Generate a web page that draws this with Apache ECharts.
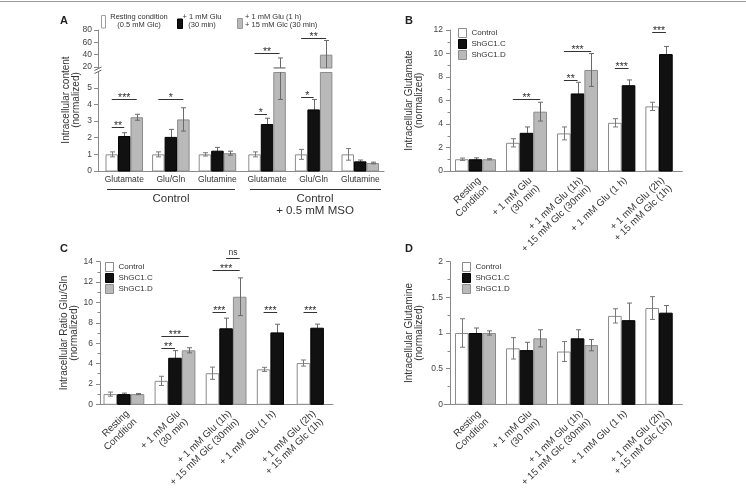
<!DOCTYPE html>
<html><head><meta charset="utf-8">
<script src="https://cdn.jsdelivr.net/npm/echarts@6/dist/echarts.min.js"></script>
<style>html,body{margin:0;padding:0;background:#fff}#c{width:746px;height:488px}</style>
</head><body><div id="c"></div>
<script>
// ================= DATA =================
// Panel A
const catsA = ['Glutamate','Glu/Gln','Glutamine','Glutamate','Glu/Gln','Glutamine'];
const namesA = ['Resting condition (0.5 mM Glc)','+ 1 mM Glu (30 min)','+ 1 mM Glu (1 h) + 15 mM Glc (30 min)'];
const aRest      = [1.0, 1.0, 1.0, 1.0, 1.0, 1.0];
const aRestErr   = [0.15, 0.15, 0.1, 0.15, 0.3, 0.35];
const aGlu       = [2.1, 2.05, 1.22, 2.82, 3.7, 0.58];
const aGluErr    = [0.2, 0.45, 0.2, 0.35, 0.6, 0.08];
const aGluGlc    = [3.23, 3.1, 1.07, 19.5, 40, 0.48];
const aGluGlcErr = [0.18, 0.7, 0.12, 15.2, 23, 0.05];
// significance: [group, fromSeries, toSeries, yValue, label]
const sigA = [[0,0,1,2.66,'**'],[0,0,2,4.3,'***'],[1,0,2,4.3,'*'],[3,0,1,3.4,'*'],[3,0,2,42,'**'],[4,0,1,4.46,'*'],[4,0,2,66.5,'**']];
const ticksAlow  = [0,1,2,3,4,5];
const ticksAhigh = [20,40,60,80];

// Panels B, C, D
const catsBCD = ['Resting\nCondition','+ 1 mM Glu\n(30 min)','+ 1 mM Glu (1h)\n+ 15 mM Glc (30min)','+ 1 mM Glu (1 h)','+ 1 mM Glu (2h)\n+ 15 mM Glc (1h)'];
const namesBCD = ['Control','ShGC1.C','ShGC1.D'];

const bControl    = [1.0, 2.4, 3.2, 4.1, 5.5];
const bControlErr = [0.1, 0.35, 0.55, 0.35, 0.35];
const bShC        = [1.0, 3.25, 6.6, 7.3, 9.95];
const bShCErr     = [0.12, 0.5, 0.95, 0.45, 0.65];
const bShD        = [1.0, 5.05, 8.6, null, null];
const bShDErr     = [0.05, 0.8, 1.4, null, null];
const sigB = [[1,0,2,6.1,'**'],[2,0,1,7.74,'**'],[2,0,2,10.24,'***'],[3,0,1,8.74,'***'],[4,0,1,11.86,'***']];

const cControl    = [1.0, 2.3, 3.05, 3.43, 4.05];
const cControlErr = [0.2, 0.45, 0.6, 0.2, 0.3];
const cShC        = [1.0, 4.57, 7.46, 7.06, 7.52];
const cShCErr     = [0.1, 0.7, 1.0, 0.8, 0.35];
const cShD        = [1.0, 5.3, 10.56, null, null];
const cShDErr     = [0.05, 0.25, 1.85, null, null];
const sigC = [[1,0,1,5.55,'**'],[1,0,2,6.7,'***'],[2,0,1,9.09,'***'],[2,0,2,13.18,'***'],[2,1,2,14.4,'ns'],[3,0,1,9.09,'***'],[4,0,1,9.09,'***']];

const dControl    = [1.0, 0.785, 0.74, 1.24, 1.35];
const dControlErr = [0.2, 0.15, 0.14, 0.1, 0.16];
const dShC        = [1.0, 0.76, 0.925, 1.18, 1.285];
const dShCErr     = [0.07, 0.11, 0.12, 0.24, 0.1];
const dShD        = [1.0, 0.925, 0.83, null, null];
const dShDErr     = [0.03, 0.12, 0.08, null, null];

// ================= STYLE / LAYOUT =================
const FONT = "'Liberation Sans', Arial, Helvetica, sans-serif";
const AX = '#8a8a8a', TXT = '#333';
const STY = [
  {fill:'#ffffff', stroke:'#8c8c8c', err:'#7a7a7a', under:false},
  {fill:'#111111', stroke:'#000000', err:'#6a6a6a', under:true},
  {fill:'#b9b9b9', stroke:'#8c8c8c', err:'#6a6a6a', under:false}
];
// left = x-axis start; yOff = how far the y axis sits to the right of it
const PA = {left:98,  yOff:0, width:286,   pad:7.5, barW:12.5,  gap:9.1,  extra:[0,0,0,3,0,0]};
const PB = {left:444, yOff:6, width:238.4, pad:11,  barW:13.67, gap:10,   extra:[0,0,0,0,0]};
const PC = {left:97,  yOff:3, width:235.9, pad:6.5, barW:13.6,  gap:10.3, extra:[0,0,0,0,2.4]};
const PD = {left:444, yOff:6, width:238.4, pad:11,  barW:13.67, gap:10,   extra:[0,0,0,0,0]};

function countBars(list){ return list[0].map((_,g)=>list.filter(s=>s[g]!=null).length); }
function layout(P, counts){
  const starts=[]; let x=P.pad;
  counts.forEach((n,i)=>{ x += P.extra[i]||0; starts.push(x); x += n*P.barW + P.gap; });
  const centers = starts.map((s,i)=>s + counts[i]*P.barW/2);
  return {starts, centers};
}
function barData(vals, errs, starts, barW, si){
  const d=[];
  vals.forEach((v,g)=>{ if(v==null) return; const x0=starts[g]+si*barW; d.push([x0, x0+barW, v, errs[g]]); });
  return d;
}
function makeBarRender(si){
  return function(params, api){
    const x0=api.value(0), x1=api.value(1), v=api.value(2), e=api.value(3);
    const cs=params.coordSys, top=cs.y, bot=cs.y+cs.height;
    const cl=y=>Math.max(top, Math.min(bot, y));
    const L=api.coord([x0,v])[0], R=api.coord([x1,v])[0];
    const yv=cl(api.coord([x0,v])[1]), y0=cl(api.coord([x0,0])[1]);
    const st=STY[si];
    const kids=[];
    const rect = (y0-yv>0.2) ? {type:'rect', shape:{x:L+0.5, y:yv+0.5, width:R-L-1, height:y0-yv-0.5}, style:{fill:st.fill, stroke:st.stroke, lineWidth:1}} : null;
    const errs=[];
    if(e>0){
      const yhR=api.coord([x0,v+e])[1], ylR=api.coord([x0,v-e])[1];
      const yh=cl(yhR), yl=cl(ylR), cx=Math.round((L+R)/2)+0.5;
      if(yl-yh>0.2){
        errs.push({type:'line', shape:{x1:cx,y1:yh,x2:cx,y2:yl}, style:{stroke:st.err, lineWidth:1}});
        if(yhR>=top) errs.push({type:'line', shape:{x1:cx-2.5,y1:yh,x2:cx+2.5,y2:yh}, style:{stroke:st.err, lineWidth:1}});
        if(ylR<=bot) errs.push({type:'line', shape:{x1:cx-2.5,y1:yl,x2:cx+2.5,y2:yl}, style:{stroke:st.err, lineWidth:1}});
      }
    }
    if(st.under){ kids.push(...errs); if(rect) kids.push(rect); }
    else { if(rect) kids.push(rect); kids.push(...errs); }
    return {type:'group', children:kids};
  };
}
function barSeries(name, si, data, idx){
  return {type:'custom', name, xAxisIndex:idx, yAxisIndex:idx, data, renderItem:makeBarRender(si),
    encode:{x:[0,1], y:[2]}, itemStyle:{color:STY[si].fill, borderColor:STY[si].stroke}, silent:true, animation:false, z:2};
}
function sigSeries(list, starts, barW, idx){
  const data=list.map(s=>[starts[s[0]]+(s[1]+0.5)*barW, starts[s[0]]+(s[2]+0.5)*barW, s[3]]);
  const labels=list.map(s=>s[4]);
  return {type:'custom', xAxisIndex:idx, yAxisIndex:idx, data, encode:{x:[0,1], y:[2]}, clip:false, silent:true, animation:false, z:5,
    renderItem:(params, api)=>{
      const p0=api.coord([api.value(0), api.value(2)]), p1=api.coord([api.value(1), api.value(2)]);
      const lab=labels[params.dataIndex], ns=(lab==='ns');
      const y=Math.round(p0[1])+0.5;
      return {type:'group', children:[
        {type:'line', shape:{x1:p0[0], y1:y, x2:p1[0], y2:y}, style:{stroke:'#333', lineWidth:1}},
        {type:'text', x:(p0[0]+p1[0])/2, y: ns ? y-1 : y-1.5,
          style:{text:lab, fill:'#333', font:(ns?'8.5px ':'10.5px ')+FONT, textAlign:'center', align:'center',
            textVerticalAlign: ns?'bottom':'middle', verticalAlign: ns?'bottom':'middle'}}
      ]};
    }};
}
function fmt(cats, centers){ return v=>{ const i=centers.findIndex(c=>Math.abs(c-v)<0.01); return i>=0?cats[i]:''; }; }

// ---- compute layouts ----
const LA = layout(PA, countBars([aRest,aGlu,aGluGlc]));
const LB = layout(PB, countBars([bControl,bShC,bShD]));
const LC = layout(PC, countBars([cControl,cShC,cShD]));
const LD = layout(PD, countBars([dControl,dShC,dShD]));

const grids = [
  {left:PA.left, width:PA.width, top:30, height:38},       // 0: A upper
  {left:PA.left, width:PA.width, top:72, height:99},       // 1: A lower
  {left:PB.left, width:PB.width, top:30, height:141},      // 2: B
  {left:PC.left, width:PC.width, top:261.7, height:142.6}, // 3: C
  {left:PD.left, width:PD.width, top:261.7, height:142.6}  // 4: D
].map(g=>Object.assign(g,{outerBoundsMode:'none', containLabel:false}));

const yBase = (extra)=>Object.assign({type:'value', axisLine:{show:true, lineStyle:{color:AX}},
  axisTick:{show:true, length:4, lineStyle:{color:AX}}, splitLine:{show:false},
  axisLabel:{fontSize:8.5, color:'#444', margin:7, fontFamily:FONT},
  nameLocation:'middle', nameTextStyle:{fontSize:10, lineHeight:10, color:TXT, fontFamily:FONT}}, extra);
const xRot = (P, L, gi)=>({type:'value', gridIndex:gi, min:0, max:P.width, axisLine:{show:true, lineStyle:{color:AX}},
  axisTick:{show:false}, splitLine:{show:false},
  axisLabel:{customValues:L.centers, formatter:fmt(catsBCD, L.centers), rotate:44, verticalAlign:'top', fontSize:9.8, lineHeight:11, color:TXT, margin:4, fontFamily:FONT}});

const xAxes = [
  {type:'value', gridIndex:0, min:0, max:PA.width, show:false},
  {type:'value', gridIndex:1, min:0, max:PA.width, axisLine:{show:true, lineStyle:{color:AX}}, axisTick:{show:false}, splitLine:{show:false},
    axisLabel:{customValues:LA.centers, formatter:fmt(catsA, LA.centers), fontSize:8.5, color:TXT, margin:4, fontFamily:FONT}},
  xRot(PB, LB, 2), xRot(PC, LC, 3), xRot(PD, LD, 4)
];
const yAxes = [
  yBase({gridIndex:0, min:18.4, max:80, axisLabel:{customValues:ticksAhigh, fontSize:8.5, color:'#444', margin:6, fontFamily:FONT}, axisTick:{show:true, length:4, customValues:ticksAhigh, lineStyle:{color:AX}}}),
  yBase({gridIndex:1, min:0, max:5.95, axisLabel:{customValues:ticksAlow, fontSize:8.5, color:'#444', margin:6, fontFamily:FONT}, axisTick:{show:true, length:4, customValues:ticksAlow, lineStyle:{color:AX}}}),
  yBase({gridIndex:2, offset:-PB.yOff, min:0, max:12, interval:2, minorTick:{show:true, splitNumber:2, length:2.5, lineStyle:{color:AX}}, name:'Intracellular Glutamate\n(normalized)', nameGap:26}),
  yBase({gridIndex:3, offset:-PC.yOff, min:0, max:14, interval:2, minorTick:{show:true, splitNumber:2, length:2.5, lineStyle:{color:AX}}, name:'Intracellular Ratio Glu/Gln\n(normalized)', nameGap:20}),
  yBase({gridIndex:4, offset:-PD.yOff, min:0, max:2, interval:0.5, minorTick:{show:true, splitNumber:2, length:2.5, lineStyle:{color:AX}}, name:'Intracellular Glutamine\n(normalized)', nameGap:26})
];

const series = [];
[[aRest,aRestErr],[aGlu,aGluErr],[aGluGlc,aGluGlcErr]].forEach((p,si)=>{
  const d=barData(p[0], p[1], LA.starts, PA.barW, si);
  series.push(barSeries(namesA[si], si, d, 0));
  series.push(barSeries(namesA[si], si, d, 1));
});
series.push(sigSeries(sigA.filter(s=>s[3]<=5.95), LA.starts, PA.barW, 1));
series.push(sigSeries(sigA.filter(s=>s[3]>5.95), LA.starts, PA.barW, 0));

[[bControl,bControlErr],[bShC,bShCErr],[bShD,bShDErr]].forEach((p,si)=>series.push(barSeries(namesBCD[si], si, barData(p[0],p[1],LB.starts,PB.barW,si), 2)));
series.push(sigSeries(sigB, LB.starts, PB.barW, 2));
[[cControl,cControlErr],[cShC,cShCErr],[cShD,cShDErr]].forEach((p,si)=>series.push(barSeries(namesBCD[si], si, barData(p[0],p[1],LC.starts,PC.barW,si), 3)));
series.push(sigSeries(sigC, LC.starts, PC.barW, 3));
[[dControl,dControlErr],[dShC,dShCErr],[dShD,dShDErr]].forEach((p,si)=>series.push(barSeries(namesBCD[si], si, barData(p[0],p[1],LD.starts,PD.barW,si), 4)));

const legData = namesBCD.map((n,si)=>({name:n, itemStyle:{color:STY[si].fill, borderColor:STY[si].stroke, borderWidth:1}}));
const legBase = (left, top)=>({data:legData, left, top, orient:'vertical', icon:'rect', itemWidth:8, itemHeight:9, itemGap:1, padding:0,
  selectedMode:false, textStyle:{fontSize:8, lineHeight:9, color:TXT, fontFamily:FONT}});

const T = (x,y,text,extra)=>({type:'text', x, y, silent:true, style:Object.assign({text, fill:TXT, fontSize:8, fontFamily:FONT, textAlign:'center', textVerticalAlign:'middle'}, extra||{})});
const Ln = (x1,y1,x2,y2,c)=>({type:'line', silent:true, shape:{x1,y1,x2,y2}, style:{stroke:c||'#333', lineWidth:1}});
const Rc = (x,y,w,h,fill,stroke)=>({type:'rect', silent:true, shape:{x,y,width:w,height:h}, style:{fill, stroke, lineWidth:1}});

const yLabelA = T(71,100,'Intracellular content\n(normalized)',{fontSize:10, lineHeight:10});
yLabelA.rotation = Math.PI/2;

const graphic = [
  Ln(0,1.5,746,1.5,'#999'),
  // panel A legend
  Rc(101.5,15.5,4,12.5,'#fff','#a0a0a0'),
  T(139,20.5,'Resting condition\n(0.5 mM Glc)',{fontSize:7.5, lineHeight:8}),
  Rc(177.5,19,5,9.5,'#111','#000'),
  T(202,20.5,'+ 1 mM Glu\n(30 min)',{fontSize:7.5, lineHeight:8}),
  Rc(237.5,18.5,5,10,'#b9b9b9','#999'),
  T(245,20.5,'+ 1 mM Glu (1 h)\n+ 15 mM Glc (30 min)',{fontSize:7.5, lineHeight:8, textAlign:'left'}),
  yLabelA,
  // A group brackets
  Ln(107,189.5,235,189.5), Ln(250,189.5,381,189.5),
  T(171,199,'Control',{fontSize:11.5}),
  T(315,199,'Control',{fontSize:11.5}),
  T(315,211,'+ 0.5 mM MSO',{fontSize:11.5}),
  // axis break marks
  Ln(94.5,70.5,101.5,67,'#666'), Ln(94.5,73.5,101.5,70,'#666'),
  // panel letters
  T(64,21,'A',{fontSize:11, fontWeight:'bold', fill:'#222'}),
  T(409,21,'B',{fontSize:11, fontWeight:'bold', fill:'#222'}),
  T(64,249,'C',{fontSize:11, fontWeight:'bold', fill:'#222'}),
  T(409,249,'D',{fontSize:11, fontWeight:'bold', fill:'#222'})
];

const chart = echarts.init(document.getElementById('c'), null, {renderer:'canvas'});
chart.setOption({
  animation:false,
  backgroundColor:'#fff',
  textStyle:{fontFamily:FONT},
  grid:grids, xAxis:xAxes, yAxis:yAxes, series,
  legend:[legBase(458,28), legBase(105,262), legBase(462,262)],
  graphic
});
</script></body></html>
